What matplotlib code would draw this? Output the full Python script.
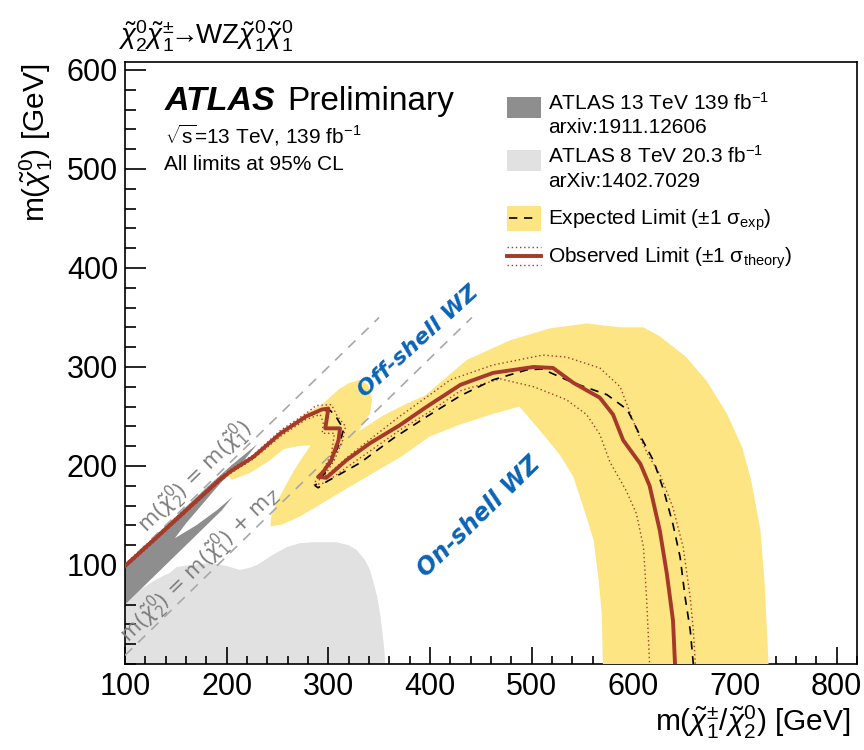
import matplotlib
matplotlib.use('Agg')
import matplotlib.pyplot as plt
from matplotlib.ticker import MultipleLocator
from matplotlib.patches import Rectangle
from matplotlib.lines import Line2D

plt.rcParams['font.family'] = ['Liberation Sans', 'DejaVu Sans']
plt.rcParams['mathtext.fontset'] = 'custom'
plt.rcParams['mathtext.rm'] = 'Liberation Sans'
plt.rcParams['mathtext.it'] = 'Liberation Sans:italic'
plt.rcParams['mathtext.bf'] = 'Liberation Sans:bold'

# --- data, all in GeV: m(chargino/neutralino2) vs m(neutralino1) ---
x_ticks = [100, 200, 300, 400, 500, 600, 700, 800]
y_ticks = [100, 200, 300, 400, 500, 600]

# ATLAS 8 TeV 20.3 fb-1 excluded region (light grey)
atlas8_x = [100, 100, 115, 130, 144, 151, 165, 184, 200, 213, 222, 230, 245, 259, 272,
            285, 308, 320, 328, 336, 341, 345, 348, 351, 353, 355, 356]
atlas8_y = [0, 62, 75, 85, 92, 98, 100, 102, 99, 95, 97, 100, 110, 118, 122,
            123, 123, 120, 115, 105, 95, 80, 68, 50, 34, 15, 0]

# ATLAS 13 TeV 139 fb-1 (arxiv:1911.12606) excluded region (dark grey)
atlas13_x = [100, 150, 180, 205, 230, 215, 195, 175, 160, 149, 170, 190, 206, 195, 175, 150, 125, 100]
atlas13_y = [101, 149, 178, 201, 222, 203, 184, 160, 142, 127, 140, 155, 169, 155, 135, 110, 85, 60]

# expected limit +-1 sigma band (outline)
band_x = [198, 223, 256, 279, 294, 299, 311, 321, 331, 339, 343, 341, 334, 330, 354, 377, 395,
          436, 479, 518, 554, 587, 610, 626, 652, 672, 692, 707, 716, 725, 729, 733,
          570, 569, 566, 561, 551, 541, 528, 508, 488, 460, 430, 400, 371, 321, 290, 272, 255, 243,
          244, 250, 258, 266, 274, 283, 270, 256, 243, 223, 205]
band_y = [193, 208, 237, 254, 262, 267, 278, 284, 287, 282, 267, 253, 243, 235, 251, 263, 271,
          307, 327, 339, 344, 340, 340, 331, 310, 286, 253, 219, 185, 135, 84, 0,
          0, 50, 84, 125, 158, 189, 211, 236, 260, 252, 242, 230, 209, 179, 160, 149, 141, 139,
          150, 165, 180, 195, 208, 221, 220, 217, 206, 193, 186]

# observed limit
obs_x = [100, 128, 161, 193, 203, 226, 253, 278, 293.5, 300, 297, 311.5, 310, 303, 295, 290, 298,
         318, 341, 370, 397, 430, 462, 502, 521, 541, 567, 580, 590, 607, 616, 626, 633, 639, 641]
obs_y = [99, 125, 156, 186, 194, 209, 233, 250, 257, 258, 238, 238, 226, 206, 194, 189, 188,
         206, 223, 241, 260, 282, 294, 300, 299, 284, 269, 252, 226, 202, 180, 135, 91, 44, 0]

# observed +-1 sigma theory
obs_up_x = [100, 128, 161, 193, 203, 226, 253, 278, 288, 303, 309, 317, 314, 306, 298, 291, 300,
            320, 345, 370, 400, 420, 462, 511, 534, 567, 587, 596, 605, 615, 626, 639, 649, 656, 659, 661]
obs_up_y = [101, 127, 158, 188, 196, 211, 236, 253, 261, 262, 250, 240, 226, 206, 193, 186, 192,
            210, 230, 250, 272, 287, 302, 312, 310, 299, 280, 256, 232, 210, 192, 158, 118, 67, 34, 0]
obs_dn_x = [100, 128, 161, 193, 203, 226, 253, 278, 292, 295, 294, 306, 303, 296, 288, 286, 297,
            320, 345, 370, 400, 430, 469, 502, 534, 554, 567, 577, 593, 603, 610, 613, 616]
obs_dn_y = [97, 123, 154, 184, 192, 207, 230, 247, 252, 244, 233, 233, 212, 198, 186, 181, 183,
            200, 218, 236, 255, 276, 288, 280, 267, 252, 232, 204, 175, 152, 118, 67, 0]

# expected limit
exp_x = [100, 128, 161, 193, 203, 226, 253, 278, 293, 302, 308, 315, 312, 304, 296, 287, 290, 298,
         331, 364, 397, 430, 462, 495, 510, 541, 574, 594, 607, 620, 630, 639, 646, 651, 656, 659]
exp_y = [99, 125, 156, 186, 194, 209, 233, 249, 256, 256, 249, 237, 226, 206, 192, 180, 178, 184,
         203, 228, 250, 271, 287, 297, 298, 284, 272, 257, 230, 205, 175, 141, 108, 67, 34, 0]

# kinematic boundaries
m_z = 91.2
diag_x = [100, 350]
diag_z_x = [100, 350 + m_z]

W, H = 864, 750
fig = plt.figure(figsize=(W / 100, H / 100), dpi=100)
ax = fig.add_axes([125 / W, 1 - 664 / H, 732 / W, 602 / H])


def fx(px):
    return px / W


def fy(py):
    return 1 - py / H


yellow = '#fce582'
dark = '#8e8e8e'
light = '#e1e1e1'
red = '#a63a2a'

ax.fill(atlas8_x, atlas8_y, color=light, lw=0, zorder=1)
ax.fill(atlas13_x, atlas13_y, color=dark, lw=0, zorder=2)
ax.fill(band_x, band_y, color=yellow, lw=0, zorder=3)

ax.plot(diag_x, diag_x, color='#a8a8a8', lw=1.2, ls=(0, (6, 5)), zorder=4)
ax.plot(diag_z_x, [v - m_z for v in diag_z_x], color='#a8a8a8', lw=1.2, ls=(0, (6, 5)), zorder=4)

ax.plot(obs_up_x, obs_up_y, color=red, lw=1.0, ls=(0, (1, 2)), zorder=5)
ax.plot(obs_dn_x, obs_dn_y, color=red, lw=1.0, ls=(0, (1, 2)), zorder=5)
ax.plot(exp_x, exp_y, color='black', lw=1.2, ls=(0, (5, 4)), zorder=6)
ax.plot(obs_x, obs_y, color=red, lw=2.8, zorder=7, solid_joinstyle='round')

ax.set_xlim(100, 820)
ax.set_ylim(0, 608)
ax.set_xticks(x_ticks)
ax.set_yticks(y_ticks)
ax.xaxis.set_minor_locator(MultipleLocator(20))
ax.yaxis.set_minor_locator(MultipleLocator(20))
ax.tick_params(which='both', direction='in', top=False, right=False, labelsize=22, width=1.2)
ax.tick_params(axis='x', which='major', length=12, pad=6)
ax.tick_params(axis='x', which='minor', length=6)
ax.tick_params(axis='y', which='major', length=15, pad=5)
ax.tick_params(axis='y', which='minor', length=8)
for s in ax.spines.values():
    s.set_linewidth(1.2)

# diagonal labels
ax.text(169, 189, r'm($\tilde{\chi}^{0}_{2}$) = m($\tilde{\chi}^{0}_{1}$)', rotation=45,
        transform_rotates_text=True, rotation_mode='anchor', ha='center', va='center',
        fontsize=15, color='#7d7d7d', math_fontfamily='dejavusans', family='DejaVu Sans', zorder=8)
ax.text(174, 100, r'm($\tilde{\chi}^{0}_{2}$) = m($\tilde{\chi}^{0}_{1}$) + m$_{Z}$', rotation=45,
        transform_rotates_text=True, rotation_mode='anchor', ha='center', va='center',
        fontsize=15, color='#7d7d7d', math_fontfamily='dejavusans', family='DejaVu Sans', zorder=8)
ax.text(388, 326, 'Off-shell WZ', rotation=43, transform_rotates_text=True, rotation_mode='anchor',
        ha='center', va='center', fontsize=16, color='#0b63b6', family='DejaVu Sans',
        fontweight='bold', fontstyle='italic', zorder=8)
ax.text(448, 149, 'On-shell WZ', rotation=45, transform_rotates_text=True, rotation_mode='anchor',
        ha='center', va='center', fontsize=17, color='#0b63b6', family='DejaVu Sans',
        fontweight='bold', fontstyle='italic', zorder=8)

# titles and labels
fig.text(fx(118), fy(44),
         r'$\tilde{\chi}^{0}_{2}\tilde{\chi}^{\pm}_{1}\!\!\rightarrow\!\!\mathrm{WZ}\tilde{\chi}^{0}_{1}\tilde{\chi}^{0}_{1}$',
         fontsize=20, va='baseline')
fig.text(fx(36), fy(64), r'm($\tilde{\chi}^{0}_{1}$) [GeV]', rotation=90, ha='center', va='top', fontsize=21.5)
fig.text(fx(851), fy(731), r'm($\tilde{\chi}^{\pm}_{1}$/$\tilde{\chi}^{0}_{2}$) [GeV]', ha='right',
         va='baseline', fontsize=21.5)

fig.text(fx(165), fy(110), 'ATLAS', fontsize=24.5, fontweight='bold', fontstyle='italic', va='baseline')
fig.text(fx(287), fy(110), 'Preliminary', fontsize=24, va='baseline')
fig.text(fx(165), fy(143), r'$\sqrt{\mathrm{s}}$=13 TeV, 139 fb$^{-1}$', fontsize=15, va='baseline')
fig.text(fx(164), fy(170), 'All limits at 95% CL', fontsize=15, va='baseline')

# legend
lx, lw_box = 507, 34
fig.add_artist(Rectangle((fx(lx), fy(118)), lw_box / W, 21 / H, transform=fig.transFigure, color=dark, lw=0))
fig.add_artist(Rectangle((fx(lx), fy(171)), lw_box / W, 21 / H, transform=fig.transFigure, color=light, lw=0))
fig.add_artist(Rectangle((fx(lx), fy(231)), lw_box / W, 25 / H, transform=fig.transFigure, color=yellow, lw=0))
fig.add_artist(Line2D([fx(lx + 2), fx(lx + lw_box - 2)], [fy(218), fy(218)], transform=fig.transFigure,
                      color='black', lw=1.2, ls=(0, (5, 4))))
fig.add_artist(Line2D([fx(lx), fx(lx + lw_box)], [fy(256), fy(256)], transform=fig.transFigure,
                      color=red, lw=2.8))
for yy in (247, 265):
    fig.add_artist(Line2D([fx(lx), fx(lx + lw_box)], [fy(yy), fy(yy)], transform=fig.transFigure,
                          color=red, lw=1.0, ls=(0, (1, 2))))

tx = 548
fig.text(fx(tx), fy(110), r'ATLAS 13 TeV 139 fb$^{-1}$', fontsize=15, va='baseline')
fig.text(fx(tx), fy(133), 'arxiv:1911.12606', fontsize=15, va='baseline')
fig.text(fx(tx), fy(163), r'ATLAS 8 TeV 20.3 fb$^{-1}$', fontsize=15, va='baseline')
fig.text(fx(tx), fy(187), 'arXiv:1402.7029', fontsize=15, va='baseline')
fig.text(fx(tx), fy(225), r'Expected Limit ($\pm$1 σ$_{\mathrm{exp}}$)', fontsize=15, va='baseline')
fig.text(fx(tx), fy(263), r'Observed Limit ($\pm$1 σ$_{\mathrm{theory}}$)', fontsize=15, va='baseline')

fig.savefig('out.png', dpi=100)
